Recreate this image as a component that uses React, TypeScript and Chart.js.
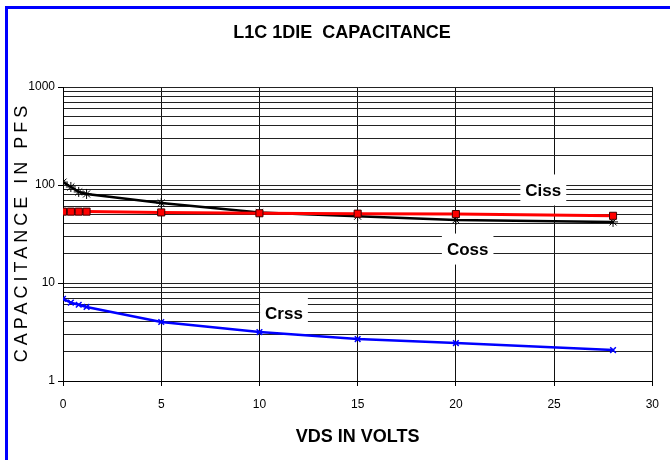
import React, { useEffect, useRef } from "react";
import { Chart, registerables } from "chart.js";
Chart.register(...registerables);

// ---- data ----
const VDS = [0, 0.4, 0.8, 1.2, 5, 10, 15, 20, 28];
const CISS = [53.5, 53.5, 53.5, 53.5, 52.5, 51.5, 51, 50.5, 48.5];
const COSS = [107, 95.5, 85, 81, 65.5, 52.5, 48, 44, 42];
const CRSS = [6.9, 6.3, 6.0, 5.7, 4.0, 3.16, 2.68, 2.44, 2.07];

const X_TICKS = [0, 5, 10, 15, 20, 25, 30];
const Y_DECADES = [1, 10, 100, 1000];

const LABEL_TEXT = ["Ciss", "Coss", "Crss"];
const LABEL_X = [24.45, 20.6, 11.25];
const LABEL_Y = [89, 22.2, 4.94];

const TITLE = "L1C 1DIE  CAPACITANCE";
const X_TITLE = "VDS IN VOLTS";
const Y_TITLE = "CAPACITANCE IN PFS";

const FONT = '"Liberation Sans", Arial, sans-serif';

const textPlugin = {
  id: "texts",
  afterDatasetsDraw(chart: any) {
    const ctx = chart.ctx;
    const xs = chart.scales.x;
    const ys = chart.scales.y;
    ctx.save();
    ctx.font = `bold 17px ${FONT}`;
    ctx.textAlign = "center";
    ctx.textBaseline = "middle";
    LABEL_TEXT.forEach((t, i) => {
      const px = xs.getPixelForValue(LABEL_X[i]);
      const py = ys.getPixelForValue(LABEL_Y[i]);
      const w = ctx.measureText(t).width + 10;
      const h = 31;
      ctx.fillStyle = "#ffffff";
      ctx.fillRect(px - w / 2, py - h / 2, w, h);
      ctx.fillStyle = "#000000";
      ctx.fillText(t, px, py + 1);
    });
    ctx.restore();
  },
  afterDraw(chart: any) {
    const ctx = chart.ctx;
    const area = chart.chartArea;
    ctx.save();
    ctx.fillStyle = "#000000";
    ctx.textAlign = "center";
    ctx.textBaseline = "middle";
    ctx.font = `bold 18px ${FONT}`;
    ctx.fillText(TITLE, 342, 33);
    ctx.fillText(X_TITLE, (area.left + area.right) / 2, 437);
    ctx.font = `18px ${FONT}`;
    (ctx as any).letterSpacing = "4px";
    ctx.translate(22, (area.top + area.bottom) / 2);
    ctx.rotate(-Math.PI / 2);
    ctx.fillText(Y_TITLE, 2, 0);
    ctx.restore();
  },
};

export default function App() {
  const ref = useRef<HTMLCanvasElement>(null);
  useEffect(() => {
    if (!ref.current) return;
    const chart = new Chart(ref.current, {
      type: "line",
      data: {
        datasets: [
          {
            label: "Ciss",
            data: VDS.map((x, i) => ({ x, y: CISS[i] })),
            borderColor: "#ff0000",
            borderWidth: 3,
            pointStyle: "rect",
            pointRadius: 5,
            pointBackgroundColor: "#ff0000",
            pointBorderColor: "#400000",
            pointBorderWidth: 1,
          },
          {
            label: "Coss",
            data: VDS.map((x, i) => ({ x, y: COSS[i] })),
            borderColor: "#000000",
            borderWidth: 2.5,
            pointStyle: "star",
            pointRadius: 5,
            pointBorderColor: "#000000",
            pointBackgroundColor: "#000000",
            pointBorderWidth: 1,
          },
          {
            label: "Crss",
            data: VDS.map((x, i) => ({ x, y: CRSS[i] })),
            borderColor: "#0000ff",
            borderWidth: 2.5,
            pointStyle: "crossRot",
            pointRadius: 4,
            pointBorderColor: "#0000ff",
            pointBorderWidth: 1.5,
          },
        ],
      },
      options: {
        animation: false,
        responsive: false,
        devicePixelRatio: 1,
        layout: { padding: { left: 0, top: 87, right: 12, bottom: 0 } },
        plugins: { legend: { display: false }, tooltip: { enabled: false }, title: { display: false } },
        scales: {
          x: {
            type: "linear",
            min: 0,
            max: 30,
            afterBuildTicks: (s: any) => {
              s.ticks = X_TICKS.map((v) => ({ value: v }));
            },
            afterFit: (s: any) => {
              s.height = 79;
            },
            ticks: { color: "#000", font: { family: FONT, size: 12 }, padding: 11, maxRotation: 0, autoSkip: false },
            grid: { color: "#111", lineWidth: 1, tickLength: 5, tickColor: "#000" },
            border: { color: "#000", width: 1 },
          },
          y: {
            type: "logarithmic",
            min: 1,
            max: 1000,
            afterBuildTicks: (s: any) => {
              const t: any[] = [];
              for (let d = 0; d < Y_DECADES.length - 1; d++) {
                for (let k = 1; k <= 9; k++) t.push({ value: Y_DECADES[d] * k });
              }
              t.push({ value: Y_DECADES[Y_DECADES.length - 1] });
              s.ticks = t;
            },
            afterFit: (s: any) => {
              s.width = 63;
            },
            ticks: {
              color: "#000",
              font: { family: FONT, size: 12 },
              padding: 3,
              autoSkip: false,
              callback: (v: any) => (Y_DECADES.includes(Number(v)) ? String(v) : ""),
            },
            grid: {
              color: "#222",
              lineWidth: 1,
              tickLength: 5,
              tickColor: (c: any) => (c.tick && Y_DECADES.includes(c.tick.value) ? "#000" : "rgba(0,0,0,0)"),
            },
            border: { color: "#000", width: 1 },
          },
        },
      },
      plugins: [textPlugin],
    } as any);
    return () => chart.destroy();
  }, []);
  return (
    <div style={{ position: "absolute", left: 0, top: 0, width: 670, height: 460, background: "#fff", overflow: "hidden" }}>
      <div
        style={{
          position: "absolute",
          left: 5,
          top: 6,
          width: 665,
          height: 454,
          boxSizing: "border-box",
          borderLeft: "3px solid #0000ff",
          borderTop: "3px solid #0000ff",
        }}
      />
      <canvas ref={ref} width={670} height={460} style={{ position: "absolute", left: 0, top: 0, width: 670, height: 460 }} />
    </div>
  );
}
